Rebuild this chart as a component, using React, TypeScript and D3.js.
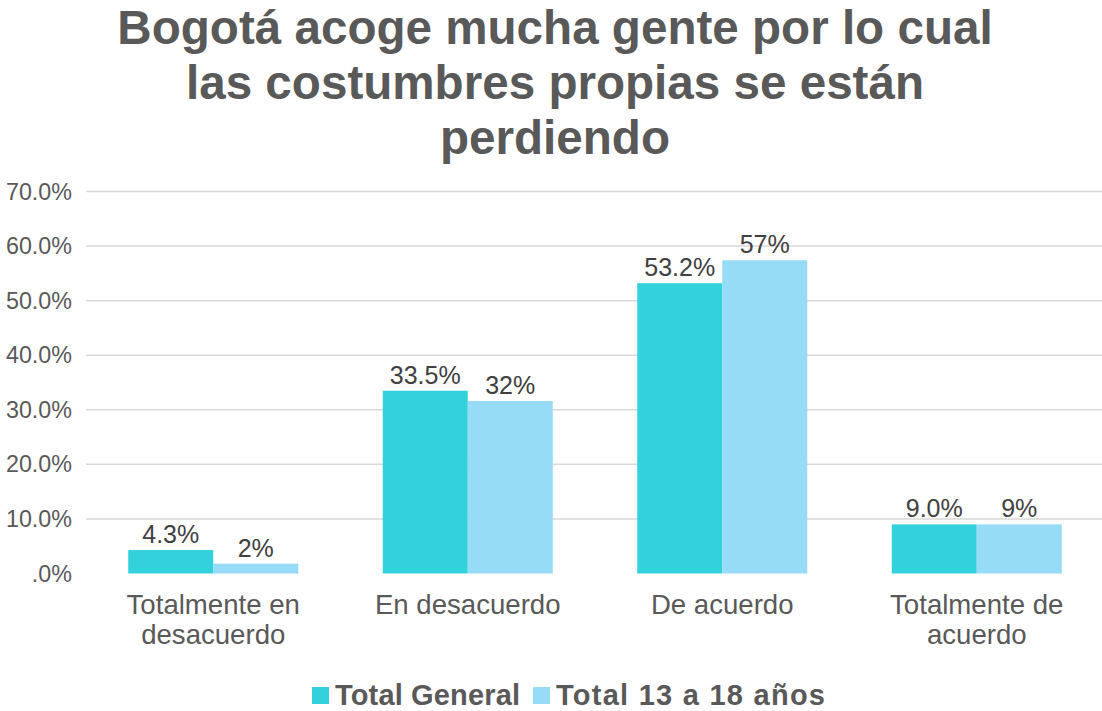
import React from "react";
import * as d3 from "d3";

const categories = ["Totalmente en desacuerdo", "En desacuerdo", "De acuerdo", "Totalmente de acuerdo"];
const categoryLines = [["Totalmente en", "desacuerdo"], ["En desacuerdo"], ["De acuerdo"], ["Totalmente de", "acuerdo"]];
const seriesNames = ["Total General", "Total 13 a 18 años"];
const totalGeneral = [0.043, 0.335, 0.532, 0.09];
const total13a18 = [0.018, 0.316, 0.574, 0.09];
const yTicks = [0, 0.1, 0.2, 0.3, 0.4, 0.5, 0.6, 0.7];
const titleLines = ["Bogotá acoge mucha gente por lo cual", "las costumbres propias se están", "perdiendo"];

const W = 1102;
const H = 711;
const COLORS = ["#33D1DB", "#96DCF6"];
const FONT = "'Liberation Sans', Arial, sans-serif";

export default function App() {
  const x = d3.scaleBand<string>().domain(categories).range([86, 1104]).paddingInner(0.332).paddingOuter(0.166);
  const x1 = d3.scaleBand<number>().domain([0, 1]).range([0, x.bandwidth()]);
  const y = d3.scaleLinear().domain([0, 0.7]).range([573.5, 191.5]);
  const series = [totalGeneral, total13a18];
  const formats = [d3.format(".1%"), d3.format(".0%")];
  const tickFmt = (v: number) => (v === 0 ? ".0%" : d3.format(".1%")(v));
  const legendX = [312, 533];
  const legendLen = [185, 269];

  return (
    <svg width={W} height={H} style={{ display: "block", position: "absolute", left: 0, top: 0, background: "#fff" }} fontFamily={FONT}>
      <rect width={W} height={H} fill="#fff" />
      {titleLines.map((t, i) => (
        <text key={i} x={555} y={44 + i * 55} textAnchor="middle" fontSize={47.6} fontWeight="bold" fill="#595959">
          {t}
        </text>
      ))}
      {yTicks.map((t) => (
        <g key={t}>
          {t > 0 && <line x1={86} x2={1104} y1={y(t)} y2={y(t)} stroke="#D9D9D9" strokeWidth={1.5} />}
          <text x={72} y={y(t) + 8} textAnchor="end" fontSize={23.3} fill="#595959">
            {tickFmt(t)}
          </text>
        </g>
      ))}
      {categories.map((c, ci) => (
        <g key={c}>
          {series.map((s, si) => {
            const bx = (x(c) as number) + (x1(si) as number);
            const bw = x1.bandwidth();
            return (
              <g key={si}>
                <rect x={bx} y={y(s[ci])} width={bw} height={y(0) - y(s[ci])} fill={COLORS[si]} />
                <text x={bx + bw / 2} y={y(s[ci]) - 7} textAnchor="middle" fontSize={25} fill="#404040">
                  {formats[si](s[ci])}
                </text>
              </g>
            );
          })}
          {categoryLines[ci].map((l, li) => (
            <text key={li} x={(x(c) as number) + x.bandwidth() / 2} y={614 + li * 30} textAnchor="middle" fontSize={27.6} fill="#595959">
              {l}
            </text>
          ))}
        </g>
      ))}
      {seriesNames.map((n, i) => (
        <g key={n}>
          <rect x={legendX[i]} y={687} width={17} height={17} fill={COLORS[i]} />
          <text x={legendX[i] + 23} y={705} fontSize={29} fontWeight="bold" fill="#595959" textLength={legendLen[i]} lengthAdjust="spacing">
            {n}
          </text>
        </g>
      ))}
    </svg>
  );
}
